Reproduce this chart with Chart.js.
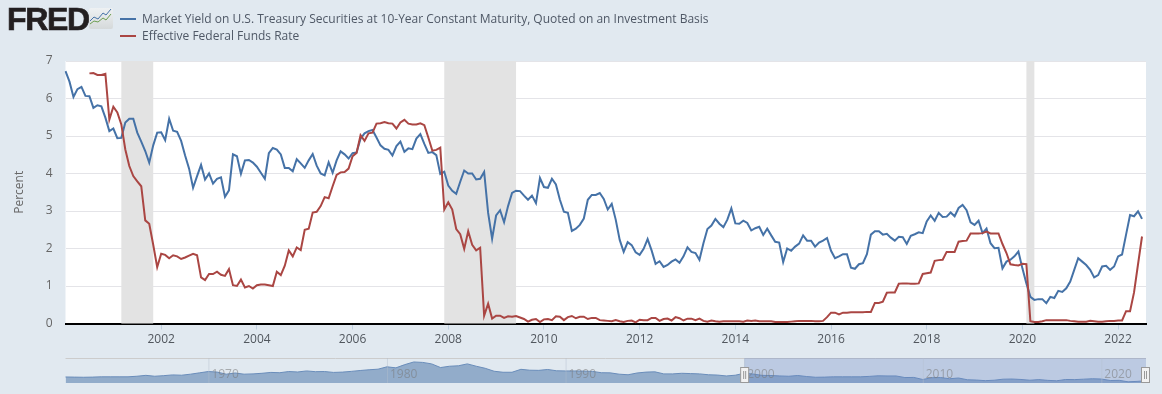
<!DOCTYPE html>
<html><head><meta charset="utf-8">
<script src="https://cdn.jsdelivr.net/npm/chart.js@4"></script>
<style>
html,body{margin:0;padding:0;background:#e1e9f0;width:1162px;height:394px;overflow:hidden;font-family:"Open Sans",sans-serif}
#wrap{position:relative;width:1162px;height:394px}
#main{position:absolute;left:0;top:0}
#nav{position:absolute;left:0;top:350px}
#logo{position:absolute;left:7px;top:1px;font:bold 32px "Liberation Sans",sans-serif;letter-spacing:-1.3px;color:#231f20;-webkit-text-stroke:.7px #231f20;line-height:36px}
#icon{position:absolute;left:89px;top:8px}
#legend{position:absolute;left:120px;top:10px;font-size:12px;color:#4f5866;line-height:17px}
#legend div{display:flex;align-items:center;height:17px;white-space:nowrap}
#legend i{display:inline-block;width:16px;height:2px;margin-right:6px}
</style></head><body>
<div id="wrap">
<canvas id="main" width="1162" height="354"></canvas>
<canvas id="nav" width="1162" height="44"></canvas>
<div id="logo">FRED</div>
<svg id="icon" width="24" height="21" viewBox="0 0 24 21"><defs><linearGradient id="g" x1="0" y1="0" x2="0" y2="1"><stop offset="0" stop-color="#eef1f3"/><stop offset="1" stop-color="#d5d9da"/></linearGradient></defs><rect width="24" height="21" rx="2" fill="url(#g)"/><polyline points="1,13 5,9 9,11 14,5 17,7 22,1" fill="none" stroke="#4572a7" stroke-width="1"/><polyline points="1,16 5,13 9,14 14,10 17,12 22,6" fill="none" stroke="#6d9e50" stroke-width="1"/></svg>
<div id="legend"></div>
</div>
<script>
const startYear = 2000;
const categories = [];
for (let i = 0; i < 272; i++) {
  categories.push((startYear + Math.floor(i / 12)) + '-' + String(i % 12 + 1).padStart(2, '0'));
}
const seriesNames = ['Market Yield on U.S. Treasury Securities at 10-Year Constant Maturity, Quoted on an Investment Basis', 'Effective Federal Funds Rate'];
const treasury10y = [
6.73,6.45,6.04,6.25,6.31,6.07,6.06,5.75,5.82,5.79,5.49,5.13,
5.2,4.94,4.95,5.36,5.46,5.46,5.09,4.85,4.6,4.29,4.75,5.09,
5.1,4.89,5.46,5.14,5.11,4.87,4.48,4.13,3.62,3.93,4.23,3.84,
4.0,3.73,3.86,3.9,3.38,3.55,4.51,4.46,3.99,4.35,4.36,4.29,
4.18,4.02,3.86,4.54,4.68,4.64,4.51,4.15,4.15,4.06,4.38,4.27,
4.15,4.35,4.52,4.21,4.0,3.95,4.3,4.02,4.35,4.59,4.51,4.4,
4.54,4.56,4.93,5.07,5.13,5.16,4.96,4.75,4.66,4.63,4.48,4.73,
4.85,4.58,4.67,4.65,4.93,5.05,4.79,4.55,4.57,4.49,3.99,4.05,
3.68,3.54,3.46,3.78,4.08,4.0,4.0,3.84,3.86,4.04,2.95,2.26,
2.88,3.02,2.7,3.13,3.48,3.54,3.53,3.41,3.3,3.41,3.21,3.88,
3.64,3.62,3.86,3.71,3.3,2.98,2.95,2.47,2.53,2.63,2.8,3.3,
3.43,3.43,3.48,3.32,3.04,3.19,2.77,2.23,1.91,2.17,2.09,1.9,
1.83,1.99,2.25,1.95,1.59,1.66,1.51,1.56,1.65,1.71,1.62,1.79,
2.03,1.91,1.88,1.7,2.14,2.52,2.61,2.79,2.66,2.57,2.77,3.07,
2.67,2.66,2.74,2.68,2.48,2.54,2.58,2.36,2.53,2.35,2.18,2.16,
1.64,2.0,1.94,2.05,2.13,2.35,2.21,2.21,2.05,2.16,2.21,2.28,
1.94,1.74,1.79,1.85,1.85,1.49,1.46,1.58,1.61,1.85,2.37,2.46,
2.46,2.37,2.39,2.29,2.21,2.31,2.3,2.12,2.34,2.38,2.43,2.41,
2.72,2.88,2.74,2.95,2.84,2.85,2.96,2.86,3.08,3.16,3.02,2.7,
2.63,2.74,2.41,2.53,2.14,2.01,2.02,1.47,1.65,1.7,1.79,1.92,
1.47,1.07,0.71,0.63,0.65,0.65,0.54,0.71,0.68,0.87,0.84,0.94,
1.12,1.43,1.74,1.65,1.56,1.43,1.23,1.29,1.52,1.54,1.43,1.52,
1.79,1.84,2.37,2.89,2.86,2.99,2.79,null];
const fedFunds = [
null,null,null,null,null,null,6.67,6.68,6.63,6.63,6.66,5.44,
5.78,5.63,5.31,4.64,4.2,3.93,3.79,3.66,2.75,2.66,2.1,1.5,
1.86,1.83,1.74,1.82,1.79,1.72,1.76,1.81,1.86,1.82,1.23,1.16,
1.32,1.32,1.38,1.3,1.27,1.45,1.02,1.0,1.17,0.96,1.0,0.93,
1.02,1.04,1.04,1.02,1.0,1.38,1.29,1.54,1.95,1.79,2.03,1.96,
2.5,2.53,2.96,2.98,3.13,3.37,3.34,3.66,3.96,4.03,4.04,4.13,
4.46,4.55,5.02,4.87,5.07,5.09,5.33,5.34,5.37,5.34,5.33,5.2,
5.36,5.43,5.33,5.31,5.31,5.34,5.29,4.96,4.61,4.63,4.69,3.04,
3.23,3.04,2.52,2.38,1.99,2.46,2.1,1.95,2.02,0.21,0.53,0.13,
0.21,0.21,0.15,0.19,0.18,0.2,0.16,0.12,0.05,0.1,0.12,0.04,
0.11,0.12,0.09,0.19,0.18,0.09,0.17,0.2,0.14,0.18,0.18,0.12,
0.15,0.15,0.09,0.08,0.07,0.06,0.09,0.06,0.04,0.07,0.08,0.03,
0.1,0.09,0.09,0.15,0.15,0.07,0.12,0.13,0.08,0.17,0.14,0.08,
0.13,0.13,0.09,0.13,0.07,0.05,0.08,0.06,0.05,0.06,0.06,0.06,
0.06,0.06,0.05,0.08,0.07,0.08,0.06,0.06,0.06,0.06,0.04,0.04,
0.04,0.04,0.05,0.06,0.07,0.07,0.07,0.07,0.06,0.06,0.07,0.17,
0.29,0.29,0.24,0.29,0.29,0.3,0.3,0.3,0.3,0.31,0.31,0.55,
0.55,0.58,0.82,0.83,0.83,1.06,1.07,1.07,1.06,1.06,1.07,1.32,
1.34,1.36,1.67,1.69,1.7,1.91,1.91,1.91,2.18,2.2,2.21,2.4,
2.4,2.4,2.41,2.45,2.4,2.4,2.4,2.12,1.88,1.58,1.56,1.55,
1.59,1.58,0.06,0.04,0.04,0.06,0.09,0.09,0.09,0.09,0.09,0.09,
0.07,0.06,0.05,0.05,0.05,0.07,0.06,0.05,0.05,0.06,0.07,0.07,
0.08,0.08,0.33,0.33,0.83,1.58,2.32,null];
const recessionStarts = ['2001-03','2007-12','2020-02'];
const recessionEnds = ['2001-11','2009-06','2020-04'];
const yTicks = [0,1,2,3,4,5,6,7];
const navCategories = [];
for (let y = 1962; y <= 2022; y++) { navCategories.push(y + '-01'); navCategories.push(y + '-07'); }
const navValues = [
4.1,4.0,3.9,4.0,4.2,4.2,4.2,4.2,4.6,5.2,4.6,5.0,5.5,5.3,6.0,6.9,7.8,7.4,6.0,6.8,
6.0,6.2,6.6,7.2,7.0,7.8,7.5,8.2,7.7,7.8,7.2,7.4,7.9,8.5,9.0,9.4,11.0,10.3,12.5,14.3,
14.0,13.0,10.5,11.4,11.7,13.0,11.4,10.0,8.0,7.3,7.3,9.3,8.7,8.6,9.2,8.3,8.2,8.2,8.1,7.9,
7.0,6.9,6.0,5.6,6.8,7.4,7.6,6.2,6.2,6.6,6.4,6.2,5.6,5.4,4.8,5.3,6.6,6.1,5.2,5.1,
4.8,4.6,5.1,4.4,3.9,4.0,4.2,4.2,4.2,4.2,4.5,4.9,4.8,4.8,3.7,3.8,2.4,3.6,3.7,2.9,
3.4,2.2,2.0,1.6,1.9,2.6,2.7,2.4,1.9,2.3,1.8,1.5,2.4,2.3,2.6,2.9,2.7,1.7,1.8,0.8,
1.1,1.5,1.8];
const navTickYears = [1970,1980,1990,2000,2010,2020];
const navSelectStart = '2000-01';

const lg = document.getElementById('legend');
['#4572a7','#aa4643'].forEach((c,i)=>{
  const d=document.createElement('div');
  const m=document.createElement('i'); m.style.background=c;
  d.appendChild(m); d.appendChild(document.createTextNode(seriesNames[i]));
  lg.appendChild(d);
});

const font = {family:'"Open Sans"',size:12};
const recessions = {
  id:'recessions',
  beforeDatasetsDraw(chart){
    const {ctx,chartArea:a,scales:{x}}=chart;
    ctx.save(); ctx.fillStyle='#e3e3e3';
    recessionStarts.forEach((s,i)=>{
      const p0=x.getPixelForValue(categories.indexOf(s));
      const p1=x.getPixelForValue(categories.indexOf(recessionEnds[i]));
      ctx.fillRect(p0,a.top,p1-p0,a.bottom-a.top);
    });
    ctx.restore();
  }
};
new Chart(document.getElementById('main'),{
  type:'line',
  data:{labels:categories,datasets:[
    {label:seriesNames[0],data:treasury10y,borderColor:'#4572a7',borderWidth:2,pointRadius:0,tension:0,fill:false,order:2},
    {label:seriesNames[1],data:fedFunds,borderColor:'#aa4643',borderWidth:2,pointRadius:0,tension:0,fill:false,order:1}
  ]},
  plugins:[{id:'bg',beforeDraw(c){const {ctx,chartArea:a}=c;ctx.save();ctx.fillStyle='#fff';ctx.fillRect(a.left,a.top,a.right-a.left,a.bottom-a.top);ctx.restore();}},recessions],
  options:{
    responsive:false,animation:false,
    layout:{padding:{left:0,top:61,right:16,bottom:0}},
    plugins:{legend:{display:false},tooltip:{enabled:false}},
    scales:{
      x:{type:'category',
        afterBuildTicks(s){s.ticks=s.ticks.filter(t=>{const l=categories[t.value];return l.endsWith('-01')&&+l.slice(0,4)%2===0&&+l.slice(0,4)>2000;});},
        grid:{drawOnChartArea:false,color:'#c0d0e0',tickLength:6,drawTicks:true},
        border:{color:'#000',width:2},
        ticks:{autoSkip:false,maxRotation:0,color:'#51575e',font,padding:3,callback(v){return categories[v].slice(0,4);}},
        afterFit(s){s.height=30.5;}
      },
      y:{min:0,max:7,
        afterBuildTicks(s){s.ticks=yTicks.map(v=>({value:v}));},
        grid:{color:'#e4e4e8',lineWidth:1,drawTicks:false,tickLength:0},
        border:{display:false},
        ticks:{color:'#666',font,padding:13},
        title:{display:true,text:'Percent',color:'#666',font,padding:{top:12,bottom:0}},
        afterFit(s){s.width=65.5;}
      }
    }
  }
});

const navOverlay = {
  id:'navOverlay',
  afterDatasetsDraw(chart){
    const {ctx,chartArea:a,scales:{x}}=chart;
    ctx.save();
    const top=8, bottom=33;
    ctx.strokeStyle='#cccccc'; ctx.lineWidth=1;
    ctx.beginPath(); ctx.moveTo(a.left,top+.5); ctx.lineTo(a.right,top+.5); ctx.stroke();
    const sx=x.getPixelForValue(navCategories.indexOf(navSelectStart));
    ctx.fillStyle='rgba(102,133,194,0.3)';
    ctx.fillRect(sx,top,a.right-sx,bottom-top);
    ctx.font='12px "Open Sans"'; ctx.textAlign='left'; ctx.textBaseline='middle';
    navTickYears.forEach(y=>{
      const p=x.getPixelForValue(navCategories.indexOf(y+'-01'));
      ctx.strokeStyle='rgba(180,190,205,.45)';
      ctx.beginPath(); ctx.moveTo(p+.5,top); ctx.lineTo(p+.5,bottom); ctx.stroke();
      ctx.fillStyle='rgba(120,120,120,.55)';
      ctx.fillText(String(y),p+3,24.5);
    });
    [sx,a.right-1].forEach(p=>{
      ctx.fillStyle='#f2f2f2'; ctx.strokeStyle='#999';
      ctx.fillRect(p-3.5,17.5,8,15); ctx.strokeRect(p-3.5,17.5,8,15);
      ctx.beginPath(); ctx.moveTo(p-.5,21); ctx.lineTo(p-.5,29); ctx.moveTo(p+1.5,21); ctx.lineTo(p+1.5,29); ctx.stroke();
    });
    ctx.restore();
  }
};
new Chart(document.getElementById('nav'),{
  type:'line',
  data:{labels:navCategories,datasets:[{data:navValues,borderColor:'#6a8dba',borderWidth:1,backgroundColor:'#92acca',fill:'origin',pointRadius:0,tension:0}]},
  plugins:[navOverlay],
  options:{
    responsive:false,animation:false,
    layout:{padding:{left:65.5,right:16,top:8,bottom:11}},
    plugins:{legend:{display:false},tooltip:{enabled:false}},
    scales:{x:{display:false},y:{display:false,min:0,max:17}}
  }
});
</script>
</body></html>
